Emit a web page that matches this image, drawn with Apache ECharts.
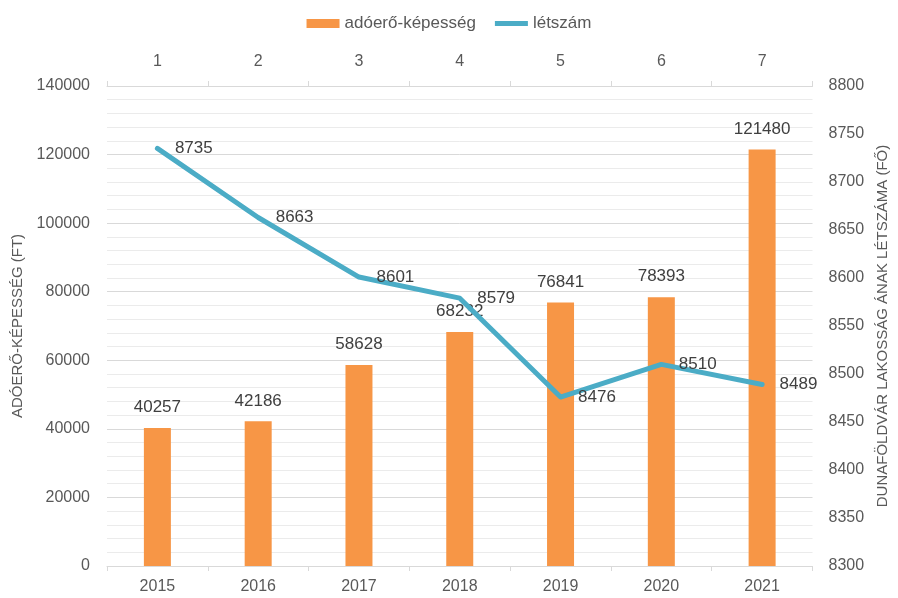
<!DOCTYPE html>
<html>
<head>
<meta charset="utf-8">
<script src="https://cdn.jsdelivr.net/npm/echarts@6/dist/echarts.min.js"></script>
<style>html,body{margin:0;padding:0;background:#fff}#c{width:898px;height:598px}</style>
</head>
<body>
<div id="c"></div>
<script>
const years = ['2015','2016','2017','2018','2019','2020','2021'];
const topCats = ['1','2','3','4','5','6','7'];
const adoero = [40257, 42186, 58628, 68232, 76841, 78393, 121480];
const letszam = [8735, 8663, 8601, 8579, 8476, 8510, 8489];
const barName = 'adóerő-képesség';
const lineName = 'létszám';
const leftName = 'ADÓERŐ-KÉPESSÉG (FT)';
const rightName = 'DUNAFÖLDVÁR LAKOSSÁG ÁNAK LÉTSZÁMA (FŐ)';

const FONT = 'Liberation Sans';
const plain = v => String(v);
const chart = echarts.init(document.getElementById('c'), null, {renderer: 'canvas'});
chart.setOption({
  animation: false,
  backgroundColor: '#ffffff',
  textStyle: {fontFamily: FONT},
  legend: {
    top: 10, left: 'center', itemWidth: 33, itemHeight: 9, itemGap: 19,
    textStyle: {color: '#595959', fontSize: 17, fontFamily: FONT},
    data: [
      {name: barName, icon: 'rect'},
      {name: lineName, icon: 'path://M0,0 L40,0 L40,6 L0,6 Z'}
    ]
  },
  grid: {left: 107, right: 78, top: 86, bottom: 32},
  xAxis: [
    {
      type: 'category', data: years, position: 'bottom',
      axisLine: {lineStyle: {color: '#d9d9d9'}},
      axisTick: {show: true, length: 5, lineStyle: {color: '#d9d9d9'}},
      axisLabel: {color: '#595959', fontSize: 16, margin: 13, fontFamily: FONT}
    },
    {
      type: 'category', data: topCats, position: 'top',
      axisLine: {lineStyle: {color: '#d9d9d9'}},
      axisTick: {show: true, length: 5, lineStyle: {color: '#d9d9d9'}},
      axisLabel: {color: '#595959', fontSize: 16, margin: 16, fontFamily: FONT}
    }
  ],
  yAxis: [
    {
      type: 'value', min: 0, max: 140000, interval: 20000, position: 'left',
      name: leftName, nameLocation: 'middle', nameGap: 80, nameRotate: 90,
      nameTextStyle: {color: '#595959', fontSize: 15, fontFamily: FONT},
      axisLine: {show: false}, axisTick: {show: false},
      axisLabel: {color: '#595959', fontSize: 16, margin: 17, fontFamily: FONT, formatter: plain},
      splitLine: {show: true, lineStyle: {color: '#d9d9d9', width: 1}},
      minorTick: {show: false, splitNumber: 5},
      minorSplitLine: {show: true, lineStyle: {color: '#ebebeb', width: 1}}
    },
    {
      type: 'value', min: 8300, max: 8800, interval: 50, position: 'right',
      name: rightName, nameLocation: 'middle', nameGap: 62, nameRotate: 90,
      nameTextStyle: {color: '#595959', fontSize: 15, fontFamily: FONT},
      axisLine: {show: false}, axisTick: {show: false},
      axisLabel: {color: '#595959', fontSize: 16, margin: 16, fontFamily: FONT, formatter: plain},
      splitLine: {show: false}
    }
  ],
  series: [
    {
      name: barName, type: 'bar', data: adoero, xAxisIndex: 0, yAxisIndex: 0,
      barWidth: 27,
      itemStyle: {color: '#F79646'},
      label: {show: true, position: 'top', distance: 12, color: '#404040', fontSize: 17, fontFamily: FONT}
    },
    {
      name: lineName, type: 'line', data: letszam, xAxisIndex: 1, yAxisIndex: 1,
      symbol: 'circle', symbolSize: 1, showSymbol: true,
      itemStyle: {color: '#4BACC6'},
      lineStyle: {color: '#4BACC6', width: 5, cap: 'round', join: 'round'},
      label: {show: true, position: 'right', distance: 17, color: '#404040', fontSize: 17, fontFamily: FONT},
      z: 5
    }
  ]
});
</script>
</body>
</html>
